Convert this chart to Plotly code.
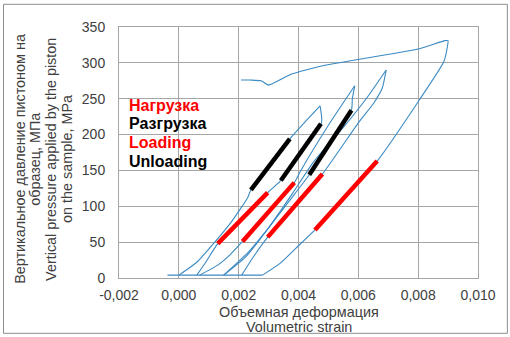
import plotly.graph_objects as go

# ---- data (volumetric strain, pressure MPa) ----
baseline_x = [-0.00038, 0.0028]
baseline_y = [4, 4]

leaf1_left_x = [0.0000, 0.0006, 0.0012, 0.00175, 0.0023, 0.00241, 0.00371, 0.00425, 0.00472]
leaf1_left_y = [4, 22, 50, 78, 112, 123, 194, 219, 240]
leaf1_right_x = [0.00472, 0.00477, 0.00341, 0.00297, 0.0013, 0.0009, 0.0006]
leaf1_right_y = [240, 217, 136, 119, 48, 22, 4]

leaf2_left_x = [0.0007, 0.0013, 0.0017, 0.00213, 0.00386, 0.00408, 0.0050, 0.00588]
leaf2_left_y = [4, 18, 32, 51, 133, 150, 213, 268]
leaf2_right_x = [0.00588, 0.00580, 0.00577, 0.00436, 0.0037, 0.0030, 0.0023, 0.0015]
leaf2_right_y = [268, 250, 234, 144, 108, 70, 35, 4]

leaf3_left_x = [0.0015, 0.0022, 0.0030, 0.0038, 0.00452, 0.0055, 0.0063, 0.00693]
leaf3_left_y = [4, 28, 70, 118, 163, 210, 252, 290]
leaf3_right_x = [0.00693, 0.0068, 0.0065, 0.00603, 0.0048, 0.00297, 0.0025, 0.0021]
leaf3_right_y = [290, 265, 243, 218, 145, 57, 30, 4]

final_x = [0.0028, 0.00337, 0.0039, 0.00455, 0.00663, 0.00805, 0.00886, 0.00899, 0.0090,
           0.0089, 0.00796, 0.00492, 0.00375, 0.0030, 0.00275, 0.00241, 0.00208]
final_y = [4, 20, 41, 67, 163, 249, 302, 326, 331,
           331, 319, 297, 284, 269, 275, 276, 276]

# thick fit segments
red_segments = [
    ([0.0013, 0.00297], [48, 119]),
    ([0.00213, 0.00386], [51, 133]),
    ([0.00297, 0.0048], [57, 145]),
    ([0.00455, 0.00663], [67, 163]),
]
black_segments = [
    ([0.00241, 0.00371], [123, 194]),
    ([0.00341, 0.00475], [136, 215]),
    ([0.00436, 0.00577], [144, 234]),
]

x_ticks = [-0.002, 0.000, 0.002, 0.004, 0.006, 0.008, 0.010]
x_tick_labels = ["-0,002", "0,000", "0,002", "0,004", "0,006", "0,008", "0,010"]
y_ticks = [0, 50, 100, 150, 200, 250, 300, 350]

legend_labels = ["Нагрузка", "Разгрузка", "Loading", "Unloading"]
legend_colors = ["#FF0000", "#000000", "#FF0000", "#000000"]
legend_y = [241, 215, 189, 163]

y_title_lines = ["Вертикальное давление пистоном на", "образец, МПа",
                 "Vertical pressure applied by the piston", "on the sample, MPa"]
x_title_lines = ["Объемная деформация", "Volumetric strain"]

BLUE = "#3A8AC4"
FONT = "Liberation Sans, Arial, sans-serif"
TXT = "#404040"

# plot-area pixel geometry
W, H = 510, 337
L, R, T, B = 119.3, 477.7, 26.7, 277.7
def px2paperx(p):
    return (p - L) / (R - L)
def px2papery(p):
    return (B - p) / (B - T)

fig = go.Figure()

blue_paths = [
    (baseline_x, baseline_y),
    (leaf1_left_x, leaf1_left_y), (leaf1_right_x, leaf1_right_y),
    (leaf2_left_x, leaf2_left_y), (leaf2_right_x, leaf2_right_y),
    (leaf3_left_x, leaf3_left_y), (leaf3_right_x, leaf3_right_y),
    (final_x, final_y),
]
for xs, ys in blue_paths:
    fig.add_trace(go.Scatter(x=xs, y=ys, mode="lines",
                             line=dict(color=BLUE, width=1.1, shape="spline", smoothing=0.5),
                             showlegend=False, hoverinfo="skip"))

for xs, ys in red_segments:
    fig.add_trace(go.Scatter(x=xs, y=ys, mode="lines",
                             line=dict(color="#FF0000", width=4.5),
                             showlegend=False, hoverinfo="skip"))
for xs, ys in black_segments:
    fig.add_trace(go.Scatter(x=xs, y=ys, mode="lines",
                             line=dict(color="#000000", width=4.5),
                             showlegend=False, hoverinfo="skip"))

for lab, col, yy in zip(legend_labels, legend_colors, legend_y):
    fig.add_annotation(x=-0.00172, y=yy, xref="x", yref="y", text="<b>%s</b>" % lab,
                       showarrow=False, xanchor="left", yanchor="middle",
                       font=dict(family=FONT, size=16, color=col))

# y-axis title, one annotation per line
for line, xc in zip(y_title_lines, [21, 36, 52, 68]):
    fig.add_annotation(x=px2paperx(xc), y=px2papery(159), xref="paper", yref="paper",
                       text=line, textangle=-90, showarrow=False,
                       xanchor="center", yanchor="middle",
                       font=dict(family=FONT, size=14.4, color=TXT))
# x-axis title
for line, yc in zip(x_title_lines, [312, 327]):
    fig.add_annotation(x=0.5, y=px2papery(yc), xref="paper", yref="paper",
                       text=line, showarrow=False, xanchor="center", yanchor="middle",
                       font=dict(family=FONT, size=14.4, color=TXT))

# outer frame
fig.add_shape(type="rect", xref="paper", yref="paper",
              x0=px2paperx(4), x1=px2paperx(507), y0=px2papery(333), y1=px2papery(4),
              line=dict(color="#8c8c8c", width=1))

fig.update_layout(
    width=W, height=H,
    margin=dict(l=round(L), r=round(W - R), t=round(T), b=round(H - B), autoexpand=False),
    paper_bgcolor="white", plot_bgcolor="white",
    font=dict(family=FONT, size=14, color=TXT),
    xaxis=dict(range=[-0.002, 0.010], tickvals=x_ticks, ticktext=x_tick_labels,
               showgrid=True, gridcolor="#a6a6a6", gridwidth=1,
               zeroline=False, showline=True, linecolor="#a6a6a6", mirror=True,
               ticks="outside", ticklen=4, tickcolor="rgba(0,0,0,0)",
               tickfont=dict(family=FONT, size=14, color=TXT)),
    yaxis=dict(range=[0, 350], tickvals=y_ticks,
               showgrid=True, gridcolor="#a6a6a6", gridwidth=1,
               zeroline=False, showline=True, linecolor="#a6a6a6", mirror=True,
               ticks="outside", ticklen=10, tickcolor="rgba(0,0,0,0)",
               tickfont=dict(family=FONT, size=14, color=TXT)),
)

fig.write_html("out.html", config={"displayModeBar": False},
               post_script="document.body.style.margin='0px';")
